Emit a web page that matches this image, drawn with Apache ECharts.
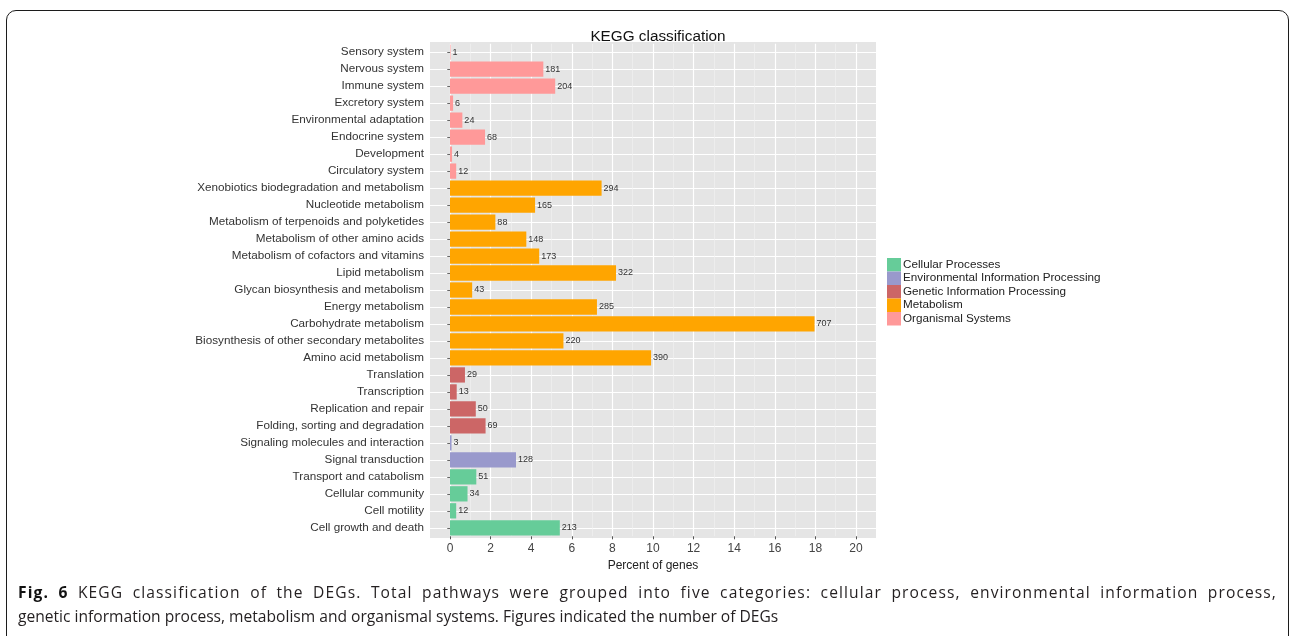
<!DOCTYPE html>
<html>
<head>
<meta charset="utf-8">
<title>KEGG classification</title>
<script src="https://cdn.jsdelivr.net/npm/echarts@6/dist/echarts.min.js"></script>
<style>
  html, body { margin: 0; padding: 0; background: #fff; width: 1290px; height: 636px; overflow: hidden; }
  #frame {
    position: absolute; left: 6px; top: 10px; width: 1283px; height: 720px;
    box-sizing: border-box; border: 1.6px solid #1c1c1c; border-radius: 10px;
  }
  #chart { position: absolute; left: 0; top: 0; width: 1290px; height: 636px; }
  #caption {
    position: absolute; left: 18px; top: 580px; width: 1259px;
    font-family: "Open Sans", "Noto Sans", sans-serif; font-size: 15.6px; line-height: 24px;
    color: #231f20;
  }
  #caption .full { text-align: justify; text-align-last: justify; letter-spacing: 1.1px; }
  #caption b { font-weight: 700; color: #111; }
</style>
</head>
<body>
<div id="frame"></div>
<div id="chart"></div>
<div id="caption">
  <div class="full"><b>Fig. 6</b> KEGG classification of the DEGs. Total pathways were grouped into five categories: cellular process, environmental information process,</div>
  <div>genetic information process, metabolism and organismal systems. Figures indicated the number of DEGs</div>
</div>
<script>
// Pathways listed bottom to top, with their DEG counts and top-level KEGG group
const pathways = [
  'Cell growth and death', 'Cell motility', 'Cellular community', 'Transport and catabolism',
  'Signal transduction', 'Signaling molecules and interaction',
  'Folding, sorting and degradation', 'Replication and repair', 'Transcription', 'Translation',
  'Amino acid metabolism', 'Biosynthesis of other secondary metabolites', 'Carbohydrate metabolism',
  'Energy metabolism', 'Glycan biosynthesis and metabolism', 'Lipid metabolism',
  'Metabolism of cofactors and vitamins', 'Metabolism of other amino acids',
  'Metabolism of terpenoids and polyketides', 'Nucleotide metabolism',
  'Xenobiotics biodegradation and metabolism',
  'Circulatory system', 'Development', 'Endocrine system', 'Environmental adaptation',
  'Excretory system', 'Immune system', 'Nervous system', 'Sensory system'
];
const geneCounts = [
  213, 12, 34, 51,
  128, 3,
  69, 50, 13, 29,
  390, 220, 707, 285, 43, 322, 173, 148, 88, 165, 294,
  12, 4, 68, 24, 6, 204, 181, 1
];
const pathwayGroups = [
  'Cellular Processes', 'Cellular Processes', 'Cellular Processes', 'Cellular Processes',
  'Environmental Information Processing', 'Environmental Information Processing',
  'Genetic Information Processing', 'Genetic Information Processing',
  'Genetic Information Processing', 'Genetic Information Processing',
  'Metabolism', 'Metabolism', 'Metabolism', 'Metabolism', 'Metabolism', 'Metabolism',
  'Metabolism', 'Metabolism', 'Metabolism', 'Metabolism', 'Metabolism',
  'Organismal Systems', 'Organismal Systems', 'Organismal Systems', 'Organismal Systems',
  'Organismal Systems', 'Organismal Systems', 'Organismal Systems', 'Organismal Systems'
];
const groupNames = [
  'Cellular Processes', 'Environmental Information Processing',
  'Genetic Information Processing', 'Metabolism', 'Organismal Systems'
];
const groupColors = ['#66CC99', '#9999CC', '#CC6666', '#FFA500', '#FF9999'];
const xTicks = [0, 2, 4, 6, 8, 10, 12, 14, 16, 18, 20];

// Bar length is each pathway's share of all annotated genes
const totalGenes = geneCounts.reduce((a, b) => a + b, 0);
const percents = geneCounts.map(c => c / totalGenes * 100);

// Panel geometry: one category band, with 0.6 band of padding at each end
const PANEL_L = 430, PANEL_R = 876, PANEL_T = 42, PANEL_B = 538;
const BAND = (PANEL_B - PANEL_T) / (pathways.length + 0.2);
const FIRST_C = PANEL_T + 0.6 * BAND;

const FONT = 'Liberation Sans, Arial, sans-serif';

const series = groupNames.map((g, gi) => ({
  name: g,
  type: 'bar',
  stack: 'kegg',
  xAxisIndex: 2,
  yAxisIndex: 2,
  barWidth: '90%',
  itemStyle: { color: groupColors[gi] },
  data: percents.map((p, i) => (pathwayGroups[i] === g ? p : '-')),
  label: {
    show: true,
    position: 'right',
    distance: 2,
    fontFamily: FONT,
    fontSize: 9,
    color: '#333',
    formatter: p => String(geneCounts[p.dataIndex])
  }
}));

const chart = echarts.init(document.getElementById('chart'), null, { renderer: 'canvas' });
chart.setOption({
  animation: false,
  backgroundColor: 'transparent',
  textStyle: { fontFamily: FONT },
  title: {
    text: 'KEGG classification',
    left: (PANEL_L + PANEL_R) / 2,
    textAlign: 'center',
    top: 24,
    textStyle: { fontSize: 15.3, fontWeight: 'normal', color: '#111', fontFamily: FONT }
  },
  legend: {
    orient: 'vertical',
    left: 887,
    top: 258,
    padding: 0,
    itemGap: 0,
    itemWidth: 14,
    itemHeight: 13.5,
    icon: 'rect',
    data: groupNames,
    textStyle: { fontSize: 11.7, color: '#222', lineHeight: 13.5, padding: [0, 0, 0, -3], fontFamily: FONT }
  },
  grid: [
    // grey panel background
    { left: PANEL_L, width: PANEL_R - PANEL_L, top: PANEL_T, height: PANEL_B - PANEL_T,
      show: true, backgroundColor: '#e5e5e5', borderWidth: 0 },
    // category centres, first to last (horizontal grid lines + labels)
    { left: PANEL_L, width: PANEL_R - PANEL_L, top: FIRST_C, height: BAND * (pathways.length - 1) },
    // bars on 0..20 %
    { left: 450, width: 406, top: FIRST_C - BAND / 2, height: BAND * pathways.length }
  ],
  xAxis: [
    { gridIndex: 0, type: 'value', min: 0, max: 1, show: false },
    { gridIndex: 1, type: 'value', min: -1, max: 21, show: false },
    {
      gridIndex: 2, type: 'value', min: 0, max: 20, interval: 2,
      name: 'Percent of genes', nameLocation: 'middle', nameGap: 16,
      nameTextStyle: { fontSize: 12, color: '#222', fontFamily: FONT },
      axisLine: { show: false },
      axisTick: { show: true, length: 3, lineStyle: { color: '#555' } },
      axisLabel: {
        fontSize: 12, color: '#444', margin: 6, fontFamily: FONT,
        formatter: v => (xTicks.indexOf(v) >= 0 ? String(v) : '')
      },
      splitLine: { show: true, lineStyle: { color: '#ffffff', width: 1.2 } },
      minorTick: { show: false, splitNumber: 2 },
      minorSplitLine: { show: true, lineStyle: { color: '#f2f2f2', width: 0.6 } }
    }
  ],
  yAxis: [
    { gridIndex: 0, type: 'value', min: 0, max: 1, show: false },
    {
      gridIndex: 1, type: 'category', data: pathways, boundaryGap: false,
      axisLine: { show: false },
      axisTick: { show: true, length: 3, interval: 0, lineStyle: { color: '#666' } },
      axisLabel: { fontSize: 11.7, color: '#333', margin: 6, interval: 0, fontFamily: FONT },
      splitLine: { show: true, interval: 0, lineStyle: { color: '#ffffff', width: 1.2 } }
    },
    { gridIndex: 2, type: 'category', data: pathways, show: false }
  ],
  series: series
});
</script>
</body>
</html>
